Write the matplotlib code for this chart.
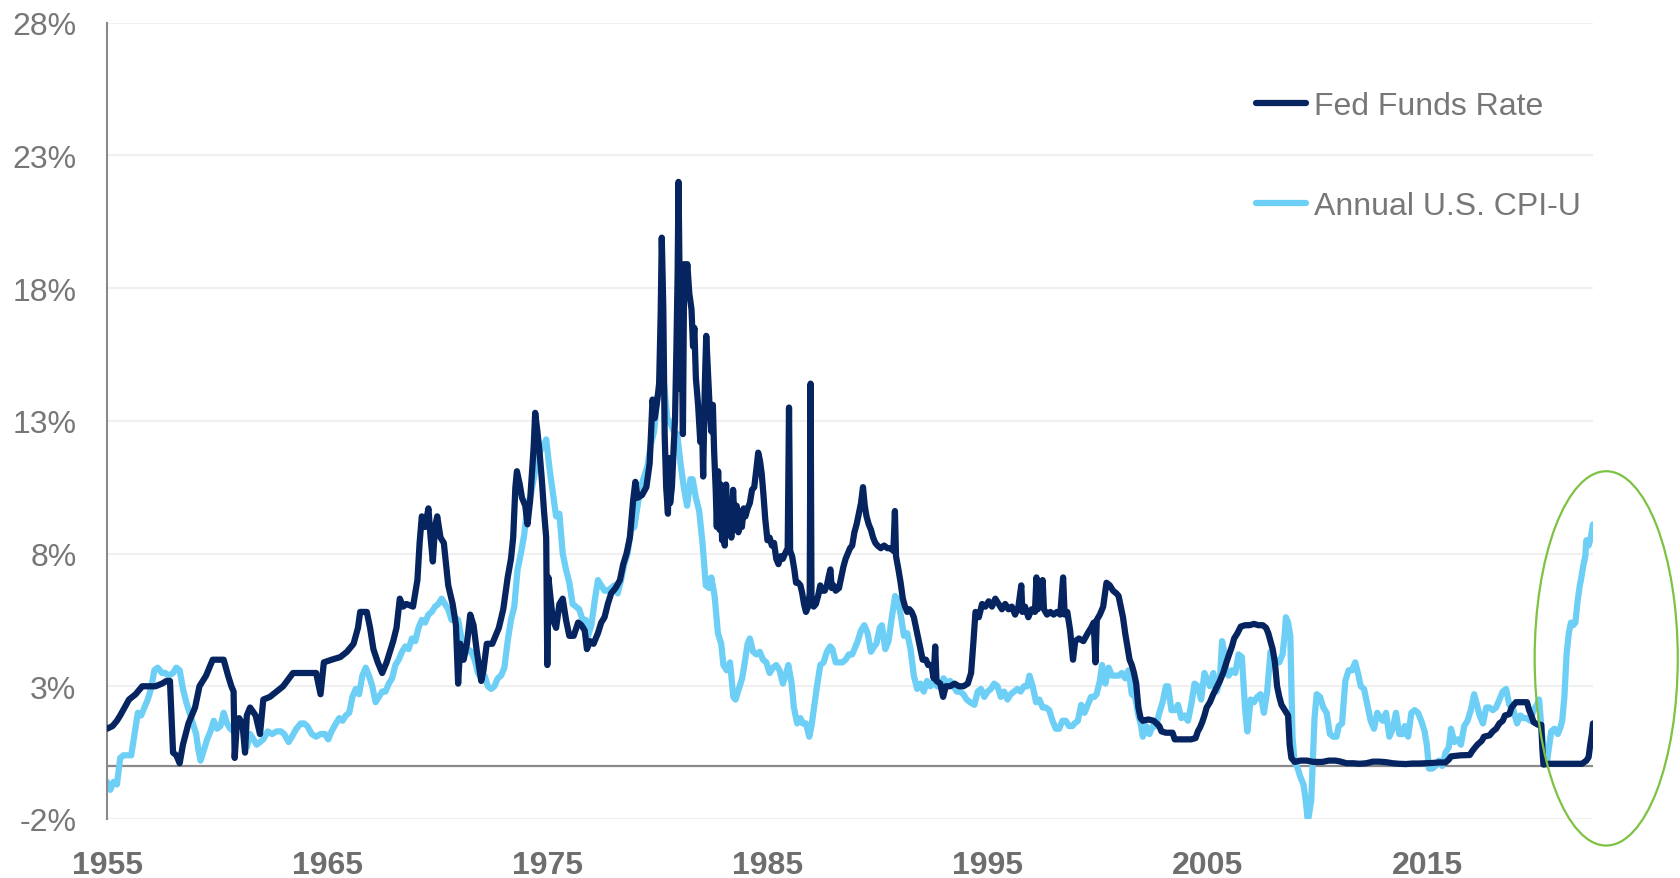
import matplotlib
matplotlib.use("Agg")
import matplotlib.pyplot as plt
from matplotlib.patches import Ellipse
import numpy as np

# ---------------- data (year, percent) ----------------
fed_points = [
    (1955.00, 1.4), (1955.25, 1.5), (1955.45, 1.7), (1955.6, 1.9), (1955.8, 2.2), (1956.0, 2.5),
    (1956.3, 2.7), (1956.6, 3.0), (1956.9, 3.0), (1957.2, 3.0), (1957.5, 3.1), (1957.7, 3.2),
    (1957.86, 3.2), (1958.0, 0.5), (1958.15, 0.4), (1958.3, 0.1), (1958.45, 0.8), (1958.7, 1.6),
    (1959.0, 2.2), (1959.2, 3.0), (1959.5, 3.4), (1959.8, 4.0), (1960.1, 4.0), (1960.3, 4.0),
    (1960.5, 3.4), (1960.65, 3.0), (1960.75, 2.8), (1960.8, 0.3), (1960.9, 1.6), (1961.0, 1.8),
    (1961.15, 1.6), (1961.27, 0.5), (1961.35, 1.9), (1961.5, 2.2), (1961.75, 1.9), (1961.95, 1.2),
    (1962.1, 2.5), (1962.4, 2.6), (1962.7, 2.8), (1963.0, 3.0), (1963.45, 3.5), (1963.8, 3.5),
    (1964.2, 3.5), (1964.5, 3.5), (1964.7, 2.7), (1964.85, 3.9), (1965.2, 4.0), (1965.6, 4.1),
    (1965.9, 4.3), (1966.2, 4.6), (1966.4, 5.2), (1966.5, 5.8), (1966.8, 5.8), (1966.95, 5.2),
    (1967.1, 4.4), (1967.3, 3.9), (1967.5, 3.5), (1967.7, 3.9), (1968.0, 4.7), (1968.15, 5.2),
    (1968.3, 6.3), (1968.45, 6.0), (1968.6, 6.1), (1968.9, 6.0), (1969.1, 7.0), (1969.2, 8.4),
    (1969.3, 9.4), (1969.45, 9.0), (1969.6, 9.7), (1969.7, 8.6), (1969.8, 7.7), (1969.9, 9.0),
    (1970.0, 9.4), (1970.15, 8.6), (1970.3, 8.4), (1970.5, 6.8), (1970.7, 6.1), (1970.85, 5.3),
    (1970.95, 3.1), (1971.05, 4.6), (1971.2, 4.0), (1971.35, 4.6), (1971.5, 5.7), (1971.65, 5.3),
    (1971.8, 4.3), (1972.0, 3.2), (1972.1, 3.6), (1972.25, 4.6), (1972.5, 4.6), (1972.8, 5.2),
    (1973.0, 5.9), (1973.2, 7.1), (1973.35, 7.8), (1973.45, 8.6), (1973.55, 10.5), (1973.62, 11.1),
    (1973.75, 10.6), (1973.85, 10.1), (1974.0, 9.8), (1974.1, 9.1), (1974.22, 10.0), (1974.3, 11.0),
    (1974.38, 12.0), (1974.45, 13.3), (1974.55, 12.6), (1974.65, 11.8), (1974.75, 10.8),
    (1974.85, 9.6), (1974.95, 8.6), (1975.0, 3.8), (1975.05, 7.1), (1975.15, 6.3), (1975.25, 5.5),
    (1975.4, 5.2), (1975.55, 6.1), (1975.7, 6.3), (1975.85, 5.5), (1976.0, 4.9), (1976.2, 4.9),
    (1976.4, 5.4), (1976.55, 5.3), (1976.7, 5.1), (1976.8, 4.4), (1976.95, 4.7), (1977.1, 4.6),
    (1977.3, 5.0), (1977.45, 5.4), (1977.6, 5.6), (1977.75, 6.1), (1977.9, 6.5), (1978.1, 6.7),
    (1978.3, 7.0), (1978.45, 7.6), (1978.6, 8.0), (1978.75, 8.6), (1978.9, 10.0), (1979.0, 10.7),
    (1979.1, 10.1), (1979.3, 10.2), (1979.5, 10.5), (1979.65, 11.4), (1979.78, 13.8),
    (1979.88, 13.1), (1980.0, 13.8), (1980.08, 14.4), (1980.15, 17.0), (1980.2, 19.9),
    (1980.27, 17.2), (1980.33, 12.5), (1980.4, 10.5), (1980.48, 9.5), (1980.52, 11.6),
    (1980.58, 9.9), (1980.66, 10.5), (1980.74, 12.0), (1980.8, 13.0), (1980.86, 15.5),
    (1980.92, 18.5), (1980.96, 22.0), (1981.0, 19.0), (1981.05, 14.2), (1981.1, 16.5),
    (1981.16, 12.5), (1981.22, 18.9), (1981.3, 18.2), (1981.36, 18.9), (1981.45, 17.8),
    (1981.55, 17.2), (1981.62, 15.8), (1981.68, 16.5), (1981.75, 14.6), (1981.85, 13.6),
    (1981.95, 12.2), (1982.02, 13.2), (1982.08, 10.9), (1982.16, 14.5), (1982.22, 16.2),
    (1982.3, 14.8), (1982.38, 13.4), (1982.45, 12.6), (1982.52, 13.6), (1982.58, 11.8),
    (1982.65, 10.4), (1982.7, 9.0), (1982.76, 11.1), (1982.82, 8.9), (1982.88, 10.6),
    (1982.94, 8.5), (1983.0, 9.9), (1983.06, 8.3), (1983.12, 10.6), (1983.2, 8.8), (1983.28, 9.6),
    (1983.36, 8.6), (1983.44, 10.4), (1983.52, 8.9), (1983.6, 9.8), (1983.68, 8.8), (1983.76, 9.6),
    (1983.84, 9.0), (1983.92, 9.7), (1984.0, 9.4), (1984.1, 9.7), (1984.2, 9.9), (1984.3, 10.4),
    (1984.4, 10.5), (1984.5, 11.2), (1984.58, 11.8), (1984.66, 11.5), (1984.74, 11.0),
    (1984.82, 10.2), (1984.9, 9.3), (1985.0, 8.5), (1985.1, 8.6), (1985.2, 8.3), (1985.3, 8.4),
    (1985.4, 7.8), (1985.5, 7.6), (1985.6, 7.9), (1985.7, 7.8), (1985.8, 8.0), (1985.92, 8.2),
    (1985.98, 13.5), (1986.03, 8.1), (1986.12, 7.9), (1986.22, 7.4), (1986.3, 6.9), (1986.4, 6.9),
    (1986.5, 6.8), (1986.58, 6.5), (1986.66, 6.1), (1986.75, 5.8), (1986.85, 6.0), (1986.92, 6.5),
    (1986.96, 14.4), (1987.0, 6.4), (1987.1, 6.0), (1987.2, 6.1), (1987.3, 6.4), (1987.4, 6.8),
    (1987.5, 6.6), (1987.6, 6.6), (1987.7, 6.8), (1987.8, 7.2), (1987.86, 7.4), (1987.92, 6.7),
    (1988.0, 6.8), (1988.1, 6.6), (1988.25, 6.7), (1988.35, 7.1), (1988.45, 7.5), (1988.55, 7.8),
    (1988.65, 8.0), (1988.75, 8.2), (1988.85, 8.3), (1988.95, 8.8), (1989.05, 9.1), (1989.15, 9.5),
    (1989.25, 9.9), (1989.34, 10.5), (1989.42, 9.8), (1989.5, 9.4), (1989.6, 9.1), (1989.7, 8.9),
    (1989.8, 8.6), (1989.9, 8.4), (1990.0, 8.3), (1990.15, 8.2), (1990.3, 8.3), (1990.45, 8.2),
    (1990.6, 8.2), (1990.72, 8.1), (1990.79, 9.6), (1990.84, 7.9), (1990.95, 7.4), (1991.05, 6.9),
    (1991.15, 6.3), (1991.25, 6.0), (1991.35, 5.8), (1991.45, 5.9), (1991.55, 5.8), (1991.65, 5.6),
    (1991.75, 5.2), (1991.85, 4.8), (1991.95, 4.4), (1992.05, 4.0), (1992.2, 4.0), (1992.3, 3.8),
    (1992.45, 3.8), (1992.55, 3.3), (1992.62, 4.5), (1992.68, 3.2), (1992.85, 3.1), (1992.98, 2.6),
    (1993.1, 3.0), (1993.3, 3.0), (1993.5, 3.1), (1993.7, 3.0), (1993.9, 3.0), (1994.1, 3.1),
    (1994.25, 3.5), (1994.35, 4.6), (1994.45, 5.8), (1994.6, 5.6), (1994.75, 6.1), (1994.9, 6.0),
    (1995.05, 6.2), (1995.2, 6.0), (1995.35, 6.3), (1995.5, 6.1), (1995.65, 5.9), (1995.8, 6.1),
    (1995.95, 5.9), (1996.1, 6.0), (1996.25, 5.7), (1996.4, 6.0), (1996.53, 6.8), (1996.58, 5.8),
    (1996.7, 6.0), (1996.85, 5.6), (1997.0, 5.9), (1997.15, 5.8), (1997.22, 7.1), (1997.28, 5.9),
    (1997.4, 6.1), (1997.5, 7.0), (1997.56, 5.9), (1997.7, 5.7), (1997.85, 5.8), (1998.0, 5.7),
    (1998.15, 5.8), (1998.3, 5.7), (1998.43, 7.1), (1998.5, 5.7), (1998.62, 5.8), (1998.75, 5.1),
    (1998.88, 4.0), (1998.98, 4.7), (1999.15, 4.8), (1999.35, 4.7), (1999.55, 5.0), (1999.7, 5.2),
    (1999.82, 5.4), (1999.9, 3.9), (1999.96, 5.5), (2000.1, 5.7), (2000.25, 6.0), (2000.4, 6.9),
    (2000.55, 6.8), (2000.7, 6.6), (2000.85, 6.5), (2000.95, 6.4), (2001.05, 6.0), (2001.15, 5.6),
    (2001.25, 5.0), (2001.35, 4.5), (2001.45, 4.0), (2001.55, 3.8), (2001.65, 3.5), (2001.75, 3.1),
    (2001.85, 2.2), (2001.95, 1.8), (2002.05, 1.7), (2002.3, 1.75), (2002.55, 1.7), (2002.8, 1.5),
    (2002.9, 1.3), (2003.1, 1.25), (2003.4, 1.25), (2003.5, 1.0), (2003.75, 1.0), (2004.0, 1.0),
    (2004.25, 1.0), (2004.45, 1.05), (2004.55, 1.3), (2004.65, 1.45), (2004.75, 1.65),
    (2004.85, 1.9), (2004.95, 2.2), (2005.1, 2.4), (2005.25, 2.7), (2005.4, 2.95), (2005.55, 3.2),
    (2005.7, 3.5), (2005.85, 3.9), (2005.95, 4.15), (2006.1, 4.5), (2006.2, 4.8), (2006.35, 5.0),
    (2006.5, 5.25), (2006.7, 5.3), (2006.9, 5.3), (2007.1, 5.35), (2007.3, 5.3), (2007.5, 5.3),
    (2007.65, 5.2), (2007.75, 5.0), (2007.85, 4.7), (2007.95, 4.4), (2008.05, 3.9), (2008.15, 3.0),
    (2008.25, 2.6), (2008.35, 2.3), (2008.5, 2.1), (2008.65, 1.9), (2008.72, 0.8), (2008.8, 0.3),
    (2008.95, 0.15), (2009.2, 0.2), (2009.5, 0.2), (2009.8, 0.15), (2010.2, 0.15), (2010.5, 0.2),
    (2010.8, 0.2), (2011.0, 0.17), (2011.3, 0.1), (2011.6, 0.1), (2011.9, 0.08), (2012.2, 0.1),
    (2012.5, 0.16), (2012.8, 0.16), (2013.1, 0.14), (2013.4, 0.1), (2013.7, 0.08), (2014.0, 0.07),
    (2014.3, 0.09), (2014.6, 0.09), (2014.9, 0.1), (2015.2, 0.11), (2015.5, 0.13), (2015.8, 0.13),
    (2015.95, 0.24), (2016.05, 0.36), (2016.5, 0.4), (2016.9, 0.41), (2017.0, 0.54), (2017.1, 0.65),
    (2017.25, 0.8), (2017.45, 0.95), (2017.55, 1.1), (2017.8, 1.15), (2017.95, 1.3), (2018.1, 1.4),
    (2018.25, 1.6), (2018.4, 1.7), (2018.5, 1.9), (2018.7, 1.95), (2018.8, 2.2), (2019.0, 2.4),
    (2019.3, 2.4), (2019.5, 2.4), (2019.6, 2.1), (2019.7, 1.9), (2019.8, 1.65), (2020.0, 1.55),
    (2020.15, 1.55), (2020.2, 0.65), (2020.25, 0.05), (2020.5, 0.08), (2021.0, 0.08),
    (2021.5, 0.08), (2022.0, 0.08), (2022.2, 0.2), (2022.3, 0.33), (2022.37, 0.77),
    (2022.45, 1.2), (2022.5, 1.6),
]

cpi_points = [
    (1955.0, -0.6), (1955.15, -0.9), (1955.3, -0.6), (1955.45, -0.7), (1955.6, 0.3), (1955.75, 0.4),
    (1955.9, 0.4), (1956.1, 0.4), (1956.25, 1.2), (1956.4, 2.0), (1956.55, 1.9), (1956.7, 2.2),
    (1956.85, 2.5), (1957.0, 2.9), (1957.15, 3.6), (1957.3, 3.7), (1957.5, 3.5), (1957.65, 3.5),
    (1957.8, 3.4), (1958.0, 3.5), (1958.15, 3.7), (1958.3, 3.6), (1958.45, 2.9), (1958.6, 2.4),
    (1958.75, 2.0), (1958.9, 1.6), (1959.05, 1.2), (1959.15, 0.6), (1959.25, 0.2), (1959.4, 0.6),
    (1959.55, 1.0), (1959.7, 1.3), (1959.85, 1.7), (1960.0, 1.4), (1960.15, 1.5), (1960.3, 2.0),
    (1960.45, 1.6), (1960.6, 1.4), (1960.75, 1.3), (1960.9, 1.5), (1961.05, 1.6), (1961.2, 1.4),
    (1961.35, 0.7), (1961.5, 1.2), (1961.65, 1.0), (1961.8, 0.8), (1961.95, 0.9), (1962.1, 1.0),
    (1962.3, 1.3), (1962.5, 1.2), (1962.7, 1.3), (1962.9, 1.3), (1963.05, 1.2), (1963.25, 0.9),
    (1963.4, 1.1), (1963.6, 1.4), (1963.8, 1.6), (1963.95, 1.6), (1964.1, 1.5), (1964.3, 1.2),
    (1964.5, 1.1), (1964.7, 1.2), (1964.9, 1.2), (1965.05, 1.0), (1965.2, 1.3), (1965.4, 1.6),
    (1965.55, 1.8), (1965.7, 1.7), (1965.85, 1.9), (1966.0, 2.0), (1966.15, 2.6), (1966.3, 2.9),
    (1966.45, 2.7), (1966.6, 3.4), (1966.75, 3.7), (1966.9, 3.4), (1967.05, 3.0), (1967.2, 2.4),
    (1967.35, 2.6), (1967.5, 2.8), (1967.65, 2.8), (1967.8, 3.1), (1967.95, 3.3), (1968.1, 3.8),
    (1968.25, 4.0), (1968.4, 4.3), (1968.55, 4.5), (1968.7, 4.4), (1968.85, 4.8), (1969.0, 4.7),
    (1969.15, 5.2), (1969.3, 5.5), (1969.45, 5.4), (1969.6, 5.7), (1969.75, 5.8), (1969.9, 6.0),
    (1970.05, 6.1), (1970.2, 6.3), (1970.35, 6.1), (1970.5, 5.9), (1970.65, 5.5), (1970.8, 5.6),
    (1970.95, 5.5), (1971.1, 4.8), (1971.25, 4.2), (1971.4, 4.4), (1971.55, 4.3), (1971.7, 4.0),
    (1971.85, 3.5), (1972.0, 3.3), (1972.15, 3.4), (1972.3, 3.0), (1972.45, 2.9), (1972.6, 3.0),
    (1972.75, 3.3), (1972.9, 3.4), (1973.05, 3.7), (1973.2, 4.7), (1973.35, 5.5), (1973.5, 6.0),
    (1973.65, 7.4), (1973.8, 8.0), (1973.95, 8.7), (1974.1, 9.8), (1974.25, 10.2), (1974.4, 10.9),
    (1974.55, 11.5), (1974.7, 11.9), (1974.85, 12.1), (1974.95, 12.3), (1975.1, 11.2),
    (1975.25, 10.3), (1975.4, 9.4), (1975.55, 9.5), (1975.7, 8.0), (1975.85, 7.4), (1976.0, 6.9),
    (1976.15, 6.1), (1976.3, 6.0), (1976.45, 5.9), (1976.6, 5.5), (1976.75, 5.5), (1976.85, 4.9),
    (1977.0, 5.3), (1977.15, 6.2), (1977.3, 7.0), (1977.45, 6.8), (1977.6, 6.6), (1977.75, 6.6),
    (1977.9, 6.7), (1978.05, 6.8), (1978.2, 6.5), (1978.35, 7.0), (1978.5, 7.6), (1978.65, 8.0),
    (1978.8, 8.9), (1978.95, 9.0), (1979.1, 9.8), (1979.25, 10.5), (1979.4, 10.9), (1979.55, 11.3),
    (1979.7, 12.1), (1979.85, 12.6), (1980.0, 13.9), (1980.1, 14.2), (1980.2, 14.7), (1980.3, 14.4),
    (1980.45, 13.1), (1980.6, 12.9), (1980.75, 12.6), (1980.9, 12.5), (1981.05, 11.4),
    (1981.2, 10.5), (1981.35, 9.8), (1981.5, 10.8), (1981.6, 10.8), (1981.75, 10.1), (1981.9, 9.6),
    (1982.05, 8.4), (1982.2, 6.8), (1982.35, 6.7), (1982.45, 7.1), (1982.6, 6.4), (1982.75, 5.0),
    (1982.9, 4.6), (1983.0, 3.8), (1983.15, 3.6), (1983.3, 3.9), (1983.45, 2.6), (1983.55, 2.5),
    (1983.7, 2.9), (1983.85, 3.3), (1983.95, 3.8), (1984.1, 4.6), (1984.2, 4.8), (1984.35, 4.3),
    (1984.5, 4.2), (1984.65, 4.3), (1984.8, 4.0), (1984.95, 3.9), (1985.1, 3.5), (1985.25, 3.7),
    (1985.4, 3.8), (1985.55, 3.6), (1985.7, 3.1), (1985.85, 3.5), (1985.95, 3.8), (1986.1, 3.1),
    (1986.2, 2.2), (1986.35, 1.6), (1986.5, 1.8), (1986.6, 1.6), (1986.75, 1.6), (1986.9, 1.1),
    (1987.0, 1.5), (1987.1, 2.1), (1987.25, 3.0), (1987.4, 3.8), (1987.55, 3.9), (1987.7, 4.3),
    (1987.85, 4.5), (1987.95, 4.4), (1988.1, 3.9), (1988.25, 3.9), (1988.4, 3.9), (1988.55, 4.0),
    (1988.7, 4.2), (1988.85, 4.2), (1988.95, 4.4), (1989.1, 4.7), (1989.25, 5.1), (1989.4, 5.3),
    (1989.55, 5.0), (1989.7, 4.3), (1989.85, 4.5), (1989.95, 4.6), (1990.1, 5.2), (1990.2, 5.3),
    (1990.35, 4.4), (1990.5, 4.7), (1990.65, 5.6), (1990.8, 6.4), (1990.9, 6.3), (1991.05, 5.7),
    (1991.2, 4.9), (1991.35, 5.0), (1991.5, 4.4), (1991.65, 3.4), (1991.8, 2.9), (1991.95, 3.1),
    (1992.1, 2.8), (1992.25, 3.2), (1992.4, 3.0), (1992.55, 3.2), (1992.7, 3.0), (1992.85, 3.0),
    (1993.0, 3.3), (1993.15, 3.1), (1993.3, 3.2), (1993.45, 3.0), (1993.6, 2.8), (1993.75, 2.8),
    (1993.9, 2.7), (1994.05, 2.5), (1994.2, 2.4), (1994.4, 2.3), (1994.55, 2.8), (1994.7, 2.9),
    (1994.85, 2.6), (1995.0, 2.8), (1995.15, 2.9), (1995.3, 3.1), (1995.45, 3.0), (1995.6, 2.6),
    (1995.75, 2.8), (1995.9, 2.5), (1996.05, 2.7), (1996.2, 2.8), (1996.35, 2.9), (1996.5, 2.8),
    (1996.65, 3.0), (1996.8, 3.0), (1996.9, 3.4), (1997.05, 3.0), (1997.2, 2.4), (1997.35, 2.5),
    (1997.5, 2.2), (1997.65, 2.2), (1997.8, 2.1), (1997.95, 1.7), (1998.1, 1.4), (1998.25, 1.4),
    (1998.4, 1.7), (1998.55, 1.7), (1998.7, 1.5), (1998.85, 1.5), (1998.95, 1.6), (1999.1, 1.7),
    (1999.25, 2.3), (1999.4, 2.0), (1999.55, 2.3), (1999.7, 2.6), (1999.85, 2.6), (1999.95, 2.7),
    (2000.1, 3.2), (2000.2, 3.8), (2000.35, 3.1), (2000.5, 3.7), (2000.65, 3.4), (2000.8, 3.4),
    (2000.95, 3.4), (2001.1, 3.5), (2001.25, 3.3), (2001.4, 3.6), (2001.55, 2.7), (2001.7, 2.6),
    (2001.85, 1.9), (2001.95, 1.6), (2002.05, 1.1), (2002.2, 1.5), (2002.35, 1.2), (2002.5, 1.5),
    (2002.65, 1.5), (2002.8, 2.0), (2002.95, 2.4), (2003.1, 3.0), (2003.2, 3.0), (2003.35, 2.1),
    (2003.5, 2.1), (2003.65, 2.3), (2003.8, 1.8), (2003.95, 1.9), (2004.1, 1.7), (2004.25, 2.3),
    (2004.4, 3.1), (2004.55, 3.0), (2004.7, 2.5), (2004.85, 3.5), (2004.95, 3.3), (2005.1, 3.0),
    (2005.25, 3.5), (2005.4, 2.8), (2005.55, 3.2), (2005.65, 4.7), (2005.75, 4.3), (2005.85, 3.5),
    (2005.95, 3.4), (2006.1, 3.6), (2006.25, 3.5), (2006.4, 4.2), (2006.55, 4.1), (2006.7, 2.1),
    (2006.8, 1.3), (2006.95, 2.5), (2007.1, 2.4), (2007.25, 2.6), (2007.4, 2.7), (2007.55, 2.0),
    (2007.7, 2.8), (2007.85, 4.3), (2007.95, 4.1), (2008.1, 4.0), (2008.25, 3.9), (2008.4, 4.2),
    (2008.5, 5.0), (2008.55, 5.6), (2008.65, 5.4), (2008.75, 4.9), (2008.85, 1.1), (2008.95, 0.1),
    (2009.05, 0.0), (2009.2, -0.4), (2009.35, -0.7), (2009.45, -1.3), (2009.55, -2.1),
    (2009.7, -1.3), (2009.85, 1.8), (2009.95, 2.7), (2010.1, 2.6), (2010.25, 2.2), (2010.4, 2.0),
    (2010.55, 1.2), (2010.7, 1.1), (2010.85, 1.1), (2010.95, 1.5), (2011.1, 1.6), (2011.25, 3.2),
    (2011.4, 3.6), (2011.55, 3.6), (2011.7, 3.9), (2011.85, 3.4), (2011.95, 3.0), (2012.1, 2.9),
    (2012.25, 2.3), (2012.4, 1.7), (2012.55, 1.4), (2012.7, 2.0), (2012.85, 1.8), (2012.95, 1.7),
    (2013.1, 2.0), (2013.25, 1.1), (2013.4, 1.4), (2013.55, 2.0), (2013.7, 1.2), (2013.85, 1.2),
    (2013.95, 1.5), (2014.1, 1.1), (2014.25, 2.0), (2014.4, 2.1), (2014.55, 2.0), (2014.7, 1.7),
    (2014.85, 1.3), (2014.95, 0.8), (2015.05, -0.1), (2015.2, -0.1), (2015.35, 0.0), (2015.5, 0.2),
    (2015.65, 0.0), (2015.8, 0.5), (2015.95, 0.7), (2016.05, 1.4), (2016.2, 0.9), (2016.35, 1.0),
    (2016.5, 0.8), (2016.65, 1.5), (2016.8, 1.7), (2016.95, 2.1), (2017.1, 2.7), (2017.2, 2.4),
    (2017.35, 1.9), (2017.5, 1.6), (2017.65, 2.2), (2017.8, 2.2), (2017.95, 2.1), (2018.1, 2.2),
    (2018.25, 2.5), (2018.4, 2.8), (2018.55, 2.9), (2018.7, 2.3), (2018.85, 2.2), (2018.95, 1.9),
    (2019.05, 1.6), (2019.2, 1.9), (2019.35, 1.8), (2019.5, 1.8), (2019.65, 1.7), (2019.8, 2.1),
    (2019.95, 2.3), (2020.05, 2.5), (2020.15, 1.5), (2020.3, 0.3), (2020.4, 0.1), (2020.5, 0.7),
    (2020.6, 1.3), (2020.75, 1.4), (2020.9, 1.2), (2021.0, 1.4), (2021.1, 1.7), (2021.2, 2.6),
    (2021.3, 4.2), (2021.4, 5.0), (2021.5, 5.4), (2021.6, 5.3), (2021.7, 5.4), (2021.8, 6.2),
    (2021.9, 6.8), (2021.95, 7.0), (2022.05, 7.5), (2022.15, 7.9), (2022.2, 8.5), (2022.3, 8.3),
    (2022.4, 8.6), (2022.5, 9.1),
]

fed_years = [p[0] for p in fed_points]
fed_rates = [p[1] for p in fed_points]
cpi_years = [p[0] for p in cpi_points]
cpi_rates = [p[1] for p in cpi_points]

y_ticks = [-2, 3, 8, 13, 18, 23, 28]
y_tick_labels = ["-2%", "3%", "8%", "13%", "18%", "23%", "28%"]
x_ticks = [1955, 1965, 1975, 1985, 1995, 2005, 2015]
x_tick_labels = ["1955", "1965", "1975", "1985", "1995", "2005", "2015"]
series_labels = ["Fed Funds Rate", "Annual U.S. CPI-U"]

# ---------------- style ----------------
NAVY = "#06245F"
LIGHT = "#6DCFF6"
GRAY_TXT = "#777777"
GREEN = "#7DC242"
FONT = ["Liberation Sans", "DejaVu Sans"]

W, H = 1680, 879
fig = plt.figure(figsize=(W / 100, H / 100), dpi=100)
ax = fig.add_axes([107 / W, (H - 820) / H, (1593 - 107) / W, (820 - 23.6) / H])

ax.set_xlim(1955, 2022.5)
ax.set_ylim(-2, 28)

for v in y_ticks:
    ax.axhline(v, color="#f0f0f0", lw=1.5, zorder=0)
ax.axhline(0, color="#8a8a8a", lw=1.6, zorder=1)

ax.plot(fed_years, fed_rates, color=NAVY, lw=4.5, solid_joinstyle="round",
        solid_capstyle="round", label=series_labels[0], zorder=3)
ax.plot(cpi_years, cpi_rates, color=LIGHT, lw=4.5, solid_joinstyle="round",
        solid_capstyle="round", label=series_labels[1], zorder=2)

for s in ["top", "right", "bottom"]:
    ax.spines[s].set_visible(False)
ax.spines["left"].set_color("#8a8a8a")
ax.spines["left"].set_linewidth(1.5)

ax.set_yticks(y_ticks)
ax.set_yticklabels(y_tick_labels, fontsize=23, color=GRAY_TXT, family=FONT)
ax.set_xticks(x_ticks)
ax.set_xticklabels(x_tick_labels, fontsize=23, color="#6e6e6e", fontweight="bold", family=FONT)
ax.tick_params(axis="y", length=0, pad=22)
ax.tick_params(axis="x", length=0, pad=22)

leg = fig.legend(loc="upper left", bbox_to_anchor=(1256 / W, 1 - 92 / H), frameon=False,
                 prop={"family": FONT, "size": 23},
                 handlelength=1.55, handletextpad=0.25, labelspacing=2.2,
                 borderpad=0, borderaxespad=0)
for t in leg.get_texts():
    t.set_color(GRAY_TXT)

ell = Ellipse((2023.1, 4.05), width=6.5, height=14.1, fill=False, edgecolor=GREEN,
              lw=1.6, clip_on=False, zorder=5)
ax.add_patch(ell)

fig.savefig("out.png", dpi=100)
